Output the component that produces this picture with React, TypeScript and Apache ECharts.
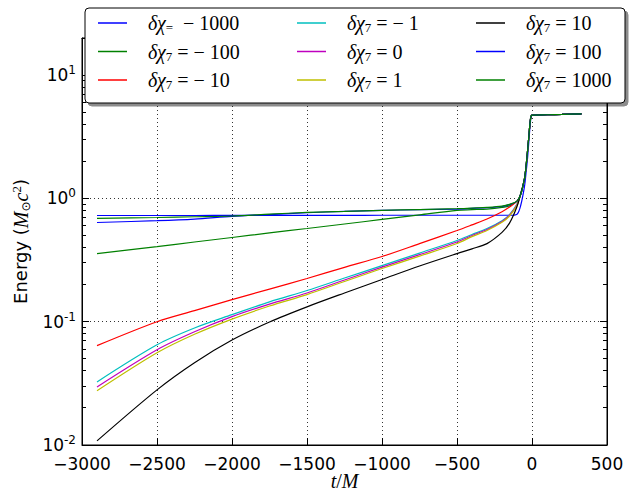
import React, { useEffect, useRef } from 'react';
import * as echarts from 'echarts';

// time samples (t/M)
const T = [-2900, -2500, -2250, -2000, -1750, -1500, -1250, -1000, -750, -500, -400, -300, -200, -150, -100, -75, -50, -40, -30, -20, -10, 0, 100, 200, 330];

// shared merger tail (t >= -75)
const TAIL = [1.08, 1.45, 1.8, 2.4, 3.3, 4.4, 4.74, 4.77, 4.8, 4.85];
const TAIL_FLAT = [0.88, 1.25, 1.6, 2.1, 3.0, 4.2, 4.72, 4.77, 4.8, 4.85];

const E_M1000 = [0.727, 0.727, 0.727, 0.728, 0.728, 0.729, 0.729, 0.73, 0.73, 0.73, 0.73, 0.73, 0.73, 0.73, 0.745, ...TAIL_FLAT];
const E_M100 = [0.357, 0.407, 0.443, 0.482, 0.525, 0.57, 0.62, 0.675, 0.735, 0.8, 0.81, 0.82, 0.845, 0.87, 0.95, ...TAIL];
const E_M10 = [0.064, 0.1, 0.123, 0.151, 0.184, 0.224, 0.276, 0.338, 0.43, 0.549, 0.61, 0.68, 0.78, 0.85, 0.95, ...TAIL];
const E_M1 = [0.0325, 0.065, 0.089, 0.114, 0.145, 0.179, 0.226, 0.285, 0.36, 0.456, 0.51, 0.57, 0.66, 0.74, 0.9, ...TAIL];
const E_0 = [0.0296, 0.0593, 0.083, 0.11, 0.139, 0.171, 0.218, 0.277, 0.35, 0.443, 0.5, 0.56, 0.65, 0.73, 0.89, ...TAIL];
const E_P1 = [0.0275, 0.0559, 0.079, 0.105, 0.134, 0.166, 0.212, 0.27, 0.34, 0.431, 0.49, 0.55, 0.64, 0.72, 0.88, ...TAIL];
const E_P10 = [0.0108, 0.028, 0.0465, 0.071, 0.0994, 0.132, 0.171, 0.22, 0.283, 0.357, 0.39, 0.43, 0.53, 0.63, 0.86, 1.1, ...TAIL.slice(1)];
const E_P100 = [0.638, 0.66, 0.68, 0.715, 0.74, 0.765, 0.785, 0.8, 0.81, 0.82, 0.83, 0.84, 0.86, 0.89, 0.95, ...TAIL];
const E_P1000 = [0.688, 0.7, 0.71, 0.72, 0.745, 0.77, 0.785, 0.8, 0.812, 0.825, 0.835, 0.845, 0.865, 0.895, 0.95, ...TAIL];

const SERIES_VALUES = [E_M1000, E_M100, E_M10, E_M1, E_0, E_P1, E_P10, E_P100, E_P1000];
const SERIES_NAMES = ['dchi=-1000', 'dchi7=-100', 'dchi7=-10', 'dchi7=-1', 'dchi7=0', 'dchi7=1', 'dchi7=10', 'dchi7=100', 'dchi7=1000'];
const LEGEND_SUB = ['=', '7', '7', '7', '7', '7', '7', '7', '7'];
const LEGEND_REST = ['  − 1000', ' = − 100', ' = − 10', ' = − 1', ' = 0', ' = 1', ' = 10', ' = 100', ' = 1000'];
const COLORS = ['#0000ff', '#008000', '#ff0000', '#00bfbf', '#bf00bf', '#bfbf00', '#000000', '#0000ff', '#008000'];

const X_MIN = -3000;
const X_MAX = 500;
const Y_MIN = 0.01;
const Y_MAX = 20;
const MINOR_MULT = [2, 3, 4, 5, 6, 7, 8, 9];
const DECADES = [0.01, 0.1, 1, 10];

const SANS = 'DejaVu Sans';
const SERIF = 'Liberation Serif';

export default function App() {
  const ref = useRef<HTMLDivElement>(null);
  useEffect(() => {
    const chart = echarts.init(ref.current!, null, { renderer: 'svg' });

    const minorVals: number[] = [];
    DECADES.forEach((d) => MINOR_MULT.forEach((m) => {
      const v = d * m;
      if (v < Y_MAX) minorVals.push(v);
    }));

    const legendRich = {
      g: { width: 16 },
      d: { fontFamily: SERIF, fontStyle: 'italic', fontSize: 20, lineHeight: 22, color: '#000' },
      s: { fontFamily: SERIF, fontSize: 13, lineHeight: 12, verticalAlign: 'bottom', color: '#000' },
      r: { fontFamily: SERIF, fontSize: 20, lineHeight: 22, color: '#000' },
    };
    const legendFormatter = (name: string) => {
      const i = SERIES_NAMES.indexOf(name);
      return `{g| }{d|δχ}{s|${LEGEND_SUB[i]}}{r|${LEGEND_REST[i]}}`;
    };
    const cols = [SERIES_NAMES.slice(0, 3), SERIES_NAMES.slice(3, 6), SERIES_NAMES.slice(6, 9)];
    const colLeft = [98, 297, 476];

    const lineSeries = SERIES_VALUES.map((vals, i) => ({
      name: SERIES_NAMES[i],
      type: 'line',
      data: T.map((t, j) => [t, vals[j]]),
      symbol: 'none',
      showSymbol: false,
      smooth: 0.3,
      lineStyle: { color: COLORS[i], width: 1.2 },
      itemStyle: { color: COLORS[i] },
      z: 2,
    }));

    const legendBox = {
      id: 'legendBox',
      type: 'rect',
      z: 5,
      shape: { x: 85, y: 8, width: 540, height: 95, r: 4 },
      style: {
        fill: '#fff', stroke: '#000', lineWidth: 1,
        shadowColor: 'rgba(0,0,0,0.45)', shadowOffsetX: 3, shadowOffsetY: 3, shadowBlur: 1,
      },
    };

    const option: any = {
      animation: false,
      backgroundColor: '#fff',
      grid: {
        left: 82, right: 30, top: 38, bottom: 46,
        show: true, borderColor: '#000', borderWidth: 1,
        containLabel: false, outerBoundsMode: 'none',
      },
      legend: cols.map((c, k) => ({
        orient: 'vertical',
        left: colLeft[k],
        top: 13,
        padding: 0,
        itemGap: 7.5,
        itemWidth: 29,
        itemHeight: 1.5,
        icon: 'rect',
        selectedMode: false,
        data: c,
        formatter: legendFormatter,
        textStyle: { rich: legendRich },
        z: 10,
      })),
      graphic: [legendBox],
      xAxis: [
        {
          type: 'value', min: X_MIN, max: X_MAX, interval: 500,
          name: '{i|t}{a|/}{i|M}', nameLocation: 'middle', nameGap: 27, nameMoveOverlap: false,
          nameTextStyle: {
            rich: {
              i: { fontFamily: SERIF, fontStyle: 'italic', fontSize: 20, lineHeight: 18, color: '#000' },
              a: { fontFamily: SERIF, fontSize: 20, lineHeight: 18, color: '#000' },
            },
          },
          axisLine: { show: true, onZero: false, lineStyle: { color: '#000', width: 1 } },
          axisTick: { show: true, inside: true, length: 7, lineStyle: { color: '#000' } },
          axisLabel: {
            fontFamily: SANS, fontSize: 17, color: '#000', margin: 10,
            formatter: (v: number) => (v < 0 ? '\u2212' + Math.abs(v) : String(v)),
          },
          splitLine: { show: true, lineStyle: { color: '#000', type: [1, 3], width: 0.8 } },
        },
        {
          type: 'value', min: X_MIN, max: X_MAX, interval: 500, position: 'top',
          axisLine: { show: true, onZero: false, lineStyle: { color: '#000', width: 1 } },
          axisTick: { show: true, inside: true, length: 7, lineStyle: { color: '#000' } },
          axisLabel: { show: false },
          splitLine: { show: false },
        },
      ],
      yAxis: [
        {
          type: 'log', logBase: 10, min: Y_MIN, max: Y_MAX,
          name: '{a|Energy (}{i|M}{b|⊙}{i|c}{p|2}{a|)}',
          nameLocation: 'middle', nameGap: 46, nameRotate: 90,
          nameTextStyle: {
            rich: {
              a: { fontFamily: SANS, fontSize: 18, lineHeight: 22, color: '#000' },
              i: { fontFamily: SERIF, fontStyle: 'italic', fontSize: 20, lineHeight: 22, color: '#000' },
              b: { fontFamily: SANS, fontSize: 12, lineHeight: 12, verticalAlign: 'bottom', color: '#000' },
              p: { fontFamily: SERIF, fontSize: 13, lineHeight: 12, verticalAlign: 'top', color: '#000' },
            },
          },
          axisLine: { show: true, onZero: false, lineStyle: { color: '#000', width: 1 } },
          axisTick: { show: true, inside: true, length: 7, lineStyle: { color: '#000' } },
          axisLabel: {
            margin: 6,
            formatter: (v: number) => {
              const e = Math.round(Math.log10(v));
              if (Math.abs(v - Math.pow(10, e)) > 1e-6 * v) return '';
              return `{b|10}{e|${e}}`;
            },
            rich: {
              b: { fontFamily: SANS, fontSize: 17, lineHeight: 22, color: '#000' },
              e: { fontFamily: SANS, fontSize: 12, lineHeight: 12, verticalAlign: 'top', color: '#000' },
            },
          },
          splitLine: { show: true, lineStyle: { color: '#000', type: [1, 3], width: 0.8 } },
        },
        {
          type: 'log', logBase: 10, min: Y_MIN, max: Y_MAX, position: 'right',
          axisLine: { show: true, onZero: false, lineStyle: { color: '#000', width: 1 } },
          axisTick: { show: true, inside: true, length: 7, lineStyle: { color: '#000' } },
          axisLabel: { show: false },
          splitLine: { show: false },
        },
      ],
      series: lineSeries,
    };
    chart.setOption(option);

    // minor log ticks, positioned through the axis scales (kept under the legend box)
    const xl = Number(chart.convertToPixel({ xAxisIndex: 0 }, X_MIN));
    const xr = Number(chart.convertToPixel({ xAxisIndex: 0 }, X_MAX));
    const ticks: any[] = [];
    minorVals.forEach((v, i) => {
      const yRaw = Number(chart.convertToPixel({ yAxisIndex: 0 }, v));
      if (!isFinite(yRaw) || !isFinite(xl) || !isFinite(xr)) return;
      const y = Math.round(yRaw - 0.5) + 0.5;
      ticks.push({ id: 'mtl' + i, type: 'line', z: 4, silent: true, shape: { x1: xl, y1: y, x2: xl + 4, y2: y }, style: { stroke: '#000', lineWidth: 1 } });
      ticks.push({ id: 'mtr' + i, type: 'line', z: 4, silent: true, shape: { x1: xr - 4, y1: y, x2: xr, y2: y }, style: { stroke: '#000', lineWidth: 1 } });
    });
    chart.setOption({ graphic: [legendBox, ...ticks] });

    return () => chart.dispose();
  }, []);
  return <div ref={ref} style={{ width: 637, height: 491, position: 'fixed', left: 0, top: 0 }} />;
}
